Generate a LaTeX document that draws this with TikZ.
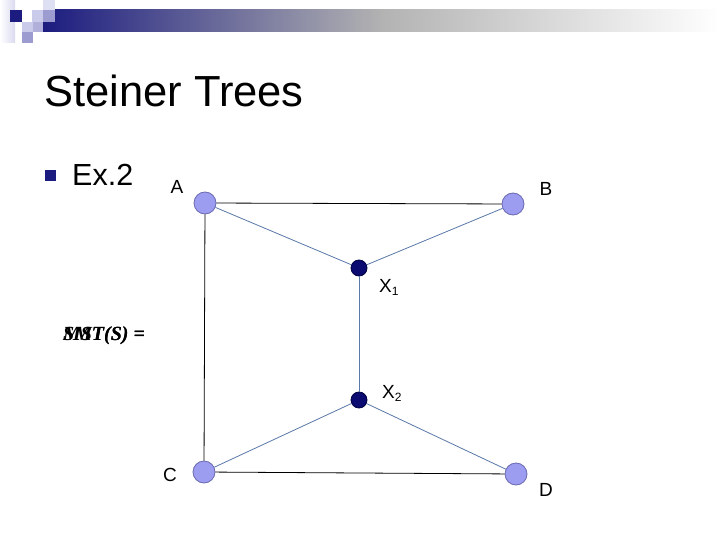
\documentclass[tikz,border=0pt]{standalone}
\usepackage{fontspec}
\setmainfont{Liberation Sans}
\newfontfamily\serifit{Liberation Serif}
\begin{document}
\begin{tikzpicture}[x=1pt,y=-1pt,
  light/.style={circle,draw=lightedge,fill=lightnode,line width=0.8pt,minimum size=22pt,inner sep=0pt},
  dark/.style={circle,draw=darkedge,fill=darknode,line width=0.8pt,minimum size=16pt,inner sep=0pt},
  blk/.style={draw=black,line width=0.8pt},
  blu/.style={draw=blueline,line width=0.8pt},
  lbl/.style={font=\fontsize{19}{19}\selectfont,inner sep=0pt},
  formula/.style={inner sep=0pt,font=\serifit\bfseries\itshape\fontsize{20}{20}\selectfont}]
\definecolor{lightnode}{HTML}{9C9CF0}
\definecolor{lightedge}{HTML}{6A6AB0}
\definecolor{darknode}{HTML}{0A0A70}
\definecolor{darkedge}{HTML}{000040}
\definecolor{blueline}{HTML}{5A78A8}
\definecolor{navybar}{HTML}{1C1C80}
\definecolor{sqlight}{HTML}{CACAEA}
\definecolor{sqmed}{HTML}{9C9CD0}
\useasboundingbox (0,0) rectangle (720,540);
\fill[white] (0,0) rectangle (720,540);
% header decoration
\shade[left color=white,right color=sqlight!70] (0,0) rectangle (15,43);
\shade[left color=navybar,right color=white,middle color=gray!60] (43,10) rectangle (720,32);
\fill[sqlight!60] (43,0) rectangle (55,10);
\fill[navybar] (10,10) rectangle (22,22);
\fill[sqlight] (32,10) rectangle (43,22);
\fill[sqmed] (43,10) rectangle (55,22);
\fill[sqlight] (22,22) rectangle (33,32);
\fill[sqmed!80] (33,22) rectangle (43,32);
\fill[sqmed] (22,32) rectangle (33,43);
% title
\node[anchor=base west,inner sep=0pt,font=\fontsize{43.5}{44}\selectfont] (title) at (44,107) {Steiner Trees};
\fill[navybar] (45,170) rectangle (56,181);
\node[anchor=base west,inner sep=0pt,font=\fontsize{30.5}{31}\selectfont] (ex) at (72,186) {Ex.2};
% overlapping formula text
\node[formula] (smt) at (104,336) {SMT(S) =};
\node[formula] (mst) at (104,336) {MST(S) =};
% nodes
\node[light] (A) at (205,203) {};
\node[light] (B) at (513,204) {};
\node[dark] (X1) at (359,268) {};
\node[dark] (X2) at (359,400) {};
\node[light] (C) at (204,472) {};
\node[light] (D) at (516,474) {};
% edges
\draw[blk] (A) -- (B);
\draw[blk] (A) -- (C);
\draw[blk] (C) -- (D);
\draw[blu] (A) -- (X1);
\draw[blu] (B) -- (X1);
\draw[blu] (X1) -- (X2);
\draw[blu] (X2) -- (C);
\draw[blu] (X2) -- (D);
% labels
\node[lbl] (lA) at (177,187) {A};
\node[lbl] (lB) at (546,189) {B};
\node[lbl] (lC) at (170,475) {C};
\node[lbl] (lD) at (546,490) {D};
\node[lbl,anchor=base west] (lX1) at (379,292) {X{\fontsize{12}{12}\selectfont\raisebox{-3pt}{1}}};
\node[lbl,anchor=base west] (lX2) at (382,398) {X{\fontsize{12}{12}\selectfont\raisebox{-3pt}{2}}};
\end{tikzpicture}
\end{document}
